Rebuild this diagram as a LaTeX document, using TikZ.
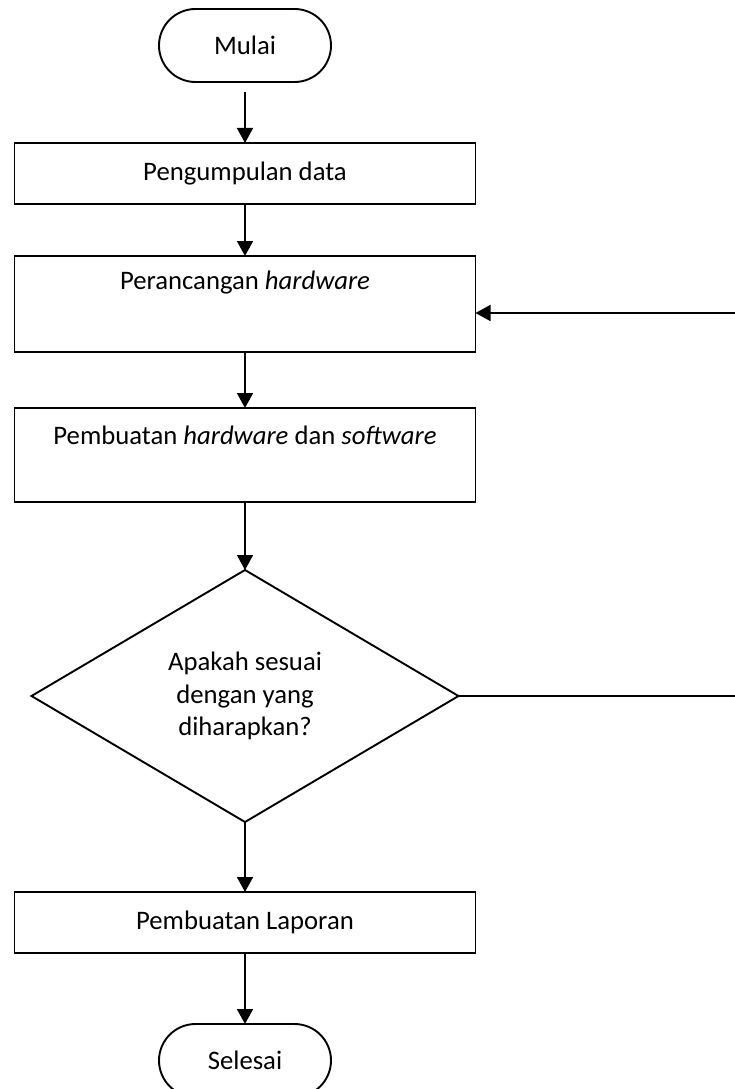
\documentclass[tikz,border=0pt]{standalone}
\usepackage{fontspec}
\setmainfont{Carlito}
\usetikzlibrary{shapes.geometric,shapes.misc,arrows.meta}
\tikzset{
  base/.style={draw=black,line width=1.9pt,inner sep=0pt,outer sep=0pt,font=\fontsize{26.7}{32.5}\selectfont},
  term/.style={base,rounded rectangle,minimum width=172pt,minimum height=73pt},
  procbox/.style={base,rectangle,minimum width=461pt},
  decision/.style={base,diamond,minimum width=427pt,minimum height=252pt,align=center},
  txt/.style={inner sep=0pt,outer sep=0pt,font=\fontsize{26.7}{32.5}\selectfont},
  arr/.style={line width=1.6pt,-{Triangle[length=15pt,width=16pt]}},
  conn/.style={line width=1.6pt}
}
\begin{document}
\begin{tikzpicture}[x=1pt,y=1pt]
\useasboundingbox (0,0) rectangle (735,-1089);
\clip (0,0) rectangle (735,-1089);
\node[term] (start) at (245,-45.5) {Mulai};
\node[procbox,minimum height=61pt] (b1) at (245,-173.5) {Pengumpulan data};
\node[procbox,minimum height=96pt] (b2) at (245,-304) {};
\node[txt] (b2t) at (245,-283) {Perancangan \textit{hardware}};
\node[procbox,minimum height=94pt] (b3) at (245,-455) {};
\node[txt] (b3t) at (245,-435) {Pembuatan \textit{hardware} dan \textit{software}};
\node[decision] (dia) at (245,-696) {Apakah sesuai\\dengan yang\\diharapkan?};
\node[procbox,minimum height=61pt] (b4) at (245,-922.5) {Pembuatan Laporan};
\node[term] (end) at (245,-1060.5) {Selesai};
\coordinate (c1) at (735,-696);
\coordinate (c2) at (735,-313);
\coordinate (top1) at (245,-92);
\draw[arr] (top1) -- (b1.north);
\draw[arr] (b1.south) -- (b2.north);
\draw[arr] (b2.south) -- (b3.north);
\draw[arr] (b3.south) -- (dia.north);
\draw[arr] (dia.south) -- (b4.north);
\draw[arr] (b4.south) -- (end.north);
\draw[conn] (dia.east) -- (c1);
\draw[arr] (c2) -- (c2 -| b2.east);
\end{tikzpicture}
\end{document}
